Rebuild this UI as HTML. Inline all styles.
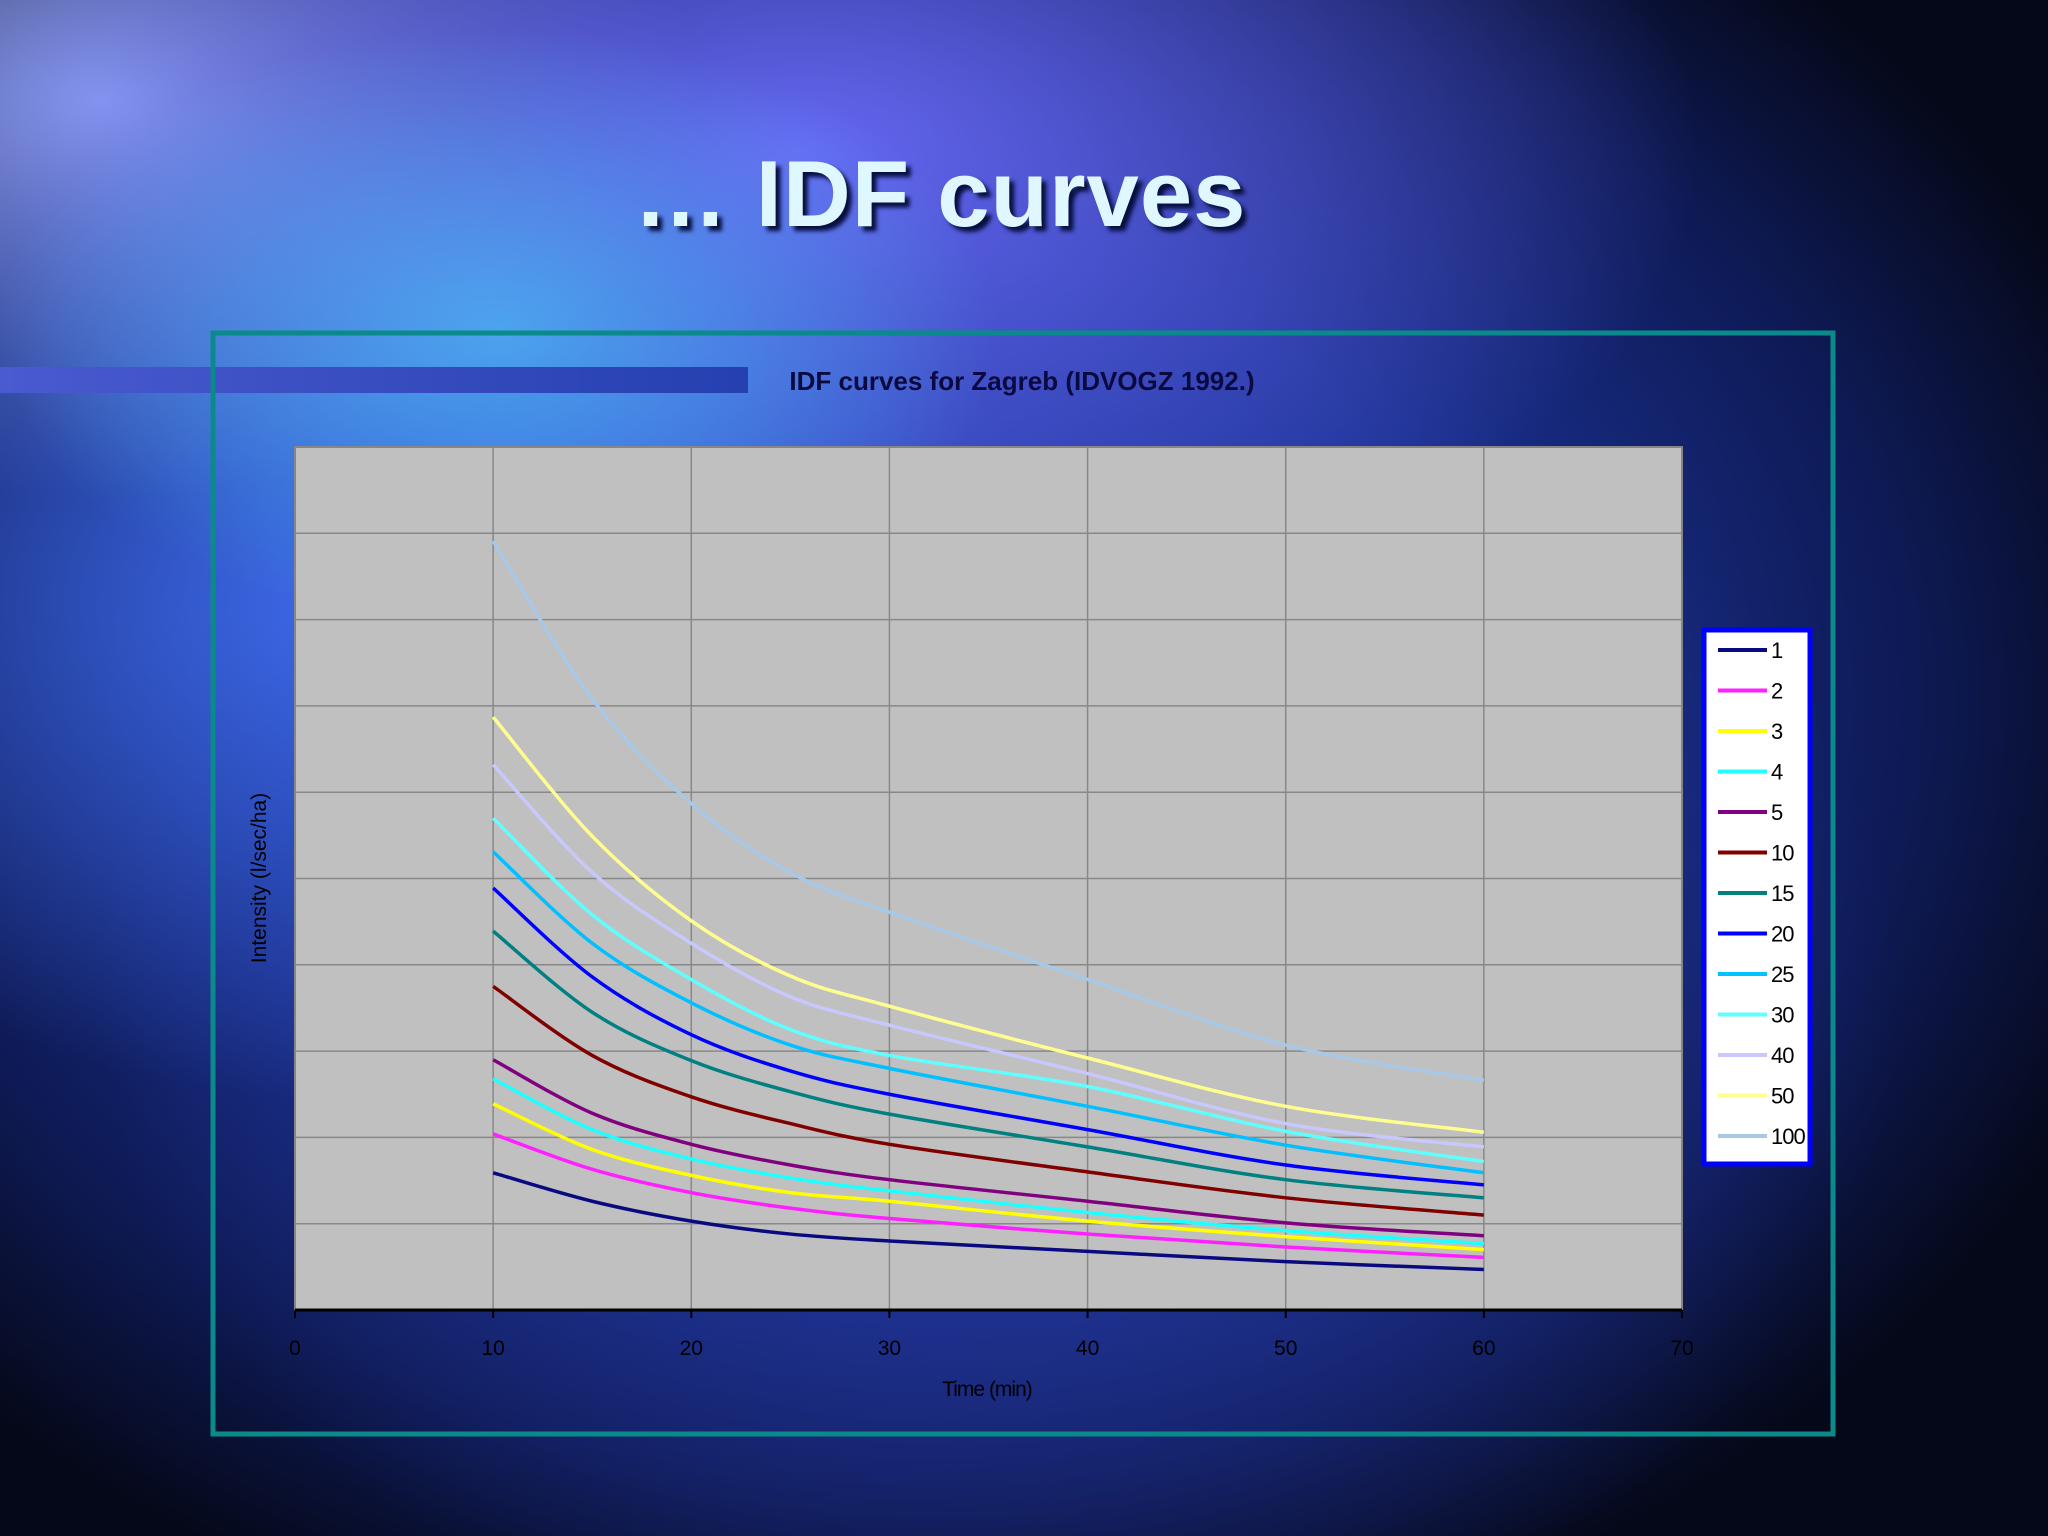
<!DOCTYPE html>
<html><head><meta charset="utf-8">
<style>
html,body{margin:0;padding:0;}
body{width:2048px;height:1536px;overflow:hidden;position:relative;font-family:"Liberation Sans",sans-serif;
background:
radial-gradient(ellipse 500px 300px at 500px 330px, rgba(80,220,255,0.55), rgba(80,220,255,0) 100%),
radial-gradient(ellipse 700px 500px at 350px 600px, rgba(70,120,255,0.8), rgba(70,120,255,0) 100%),
radial-gradient(ellipse 900px 500px at 800px 150px, rgba(110,110,255,0.9), rgba(110,110,255,0) 100%),
radial-gradient(ellipse 600px 400px at 100px 100px, rgba(150,170,255,0.9), rgba(150,170,255,0) 100%),
radial-gradient(ellipse 900px 700px at 1000px 1000px, rgba(40,60,170,0.9), rgba(40,60,170,0) 100%),
radial-gradient(ellipse 1300px 1000px at 900px 700px, #2440b0 0%, #1a3090 45%, #0e1a55 78%, #050818 100%);}
</style></head><body>
<div style="position:absolute;left:0;width:1880px;top:140px;text-align:center;font-size:94px;font-weight:bold;color:#dff8ff;text-shadow:5px 5px 4px #081040;font-family:'Liberation Sans',sans-serif;letter-spacing:1px;">… IDF curves</div>
<div style="position:absolute;left:0;top:367px;width:748px;height:26px;background:linear-gradient(90deg,#4a5ad0,#2540b0);"></div>
<svg id="chart" width="2048" height="1536" style="position:absolute;left:0;top:0" xmlns="http://www.w3.org/2000/svg"></svg>
<script>
const categories=[10,15,20,25,30,40,50,60];
const seriesNames=["1","2","3","4","5","10","15","20","25","30","40","50","100"];
const seriesColors=["#0a0a80","#ff20ff","#ffff00","#20ffff","#800080","#800000","#008080","#0000ff","#00c0ff","#60ffff","#c8c8ff","#ffff90","#a8c8e8"];
const s1=[15.9,12.6,10.3,8.8,8.0,6.8,5.6,4.7];
const s2=[20.4,16.3,13.6,11.8,10.6,8.8,7.3,6.1];
const s3=[23.9,18.6,15.6,13.6,12.6,10.3,8.5,7.0];
const s4=[26.8,20.9,17.5,15.3,13.8,11.3,9.2,7.7];
const s5=[29.0,22.8,19.2,16.8,15.1,12.6,10.1,8.6];
const s10=[37.5,29.5,24.7,21.6,19.2,16.0,13.0,11.0];
const s15=[43.9,34.5,28.9,25.3,22.7,18.9,15.1,13.0];
const s20=[48.9,38.6,31.9,27.7,25.0,20.9,16.8,14.5];
const s25=[53.1,42.5,35.6,30.7,28.0,23.6,19.1,15.9];
const s30=[57.0,45.8,38.3,32.5,29.5,25.9,20.7,17.2];
const s40=[63.2,50.7,42.5,36.3,33.0,27.4,21.6,18.9];
const s50=[68.7,54.9,45.1,38.7,35.2,29.2,23.6,20.6];
const s100=[89.1,70.8,58.7,50.7,46.1,38.3,30.7,26.6];
const xTicks=[0,10,20,30,40,50,60,70];
const yGrid=[0,10,20,30,40,50,60,70,80,90,100];
const allSeries=[s1,s2,s3,s4,s5,s10,s15,s20,s25,s30,s40,s50,s100];

const NS="http://www.w3.org/2000/svg";
const svg=document.getElementById('chart');
const L=295,R=1682,T=447,B=1310;
const xs=v=>L+(v-0)/(70-0)*(R-L);
const ys=v=>B-(v-0)/(100-0)*(B-T);
function mk(tag,attrs,parent){const e=document.createElementNS(NS,tag);for(const k in attrs)e.setAttribute(k,attrs[k]);(parent||svg).appendChild(e);return e;}
function smoothPath(P){
 let d='M'+P[0][0]+','+P[0][1];
 for(let i=0;i<P.length-1;i++){
  const p0=P[i-1]||P[i],p1=P[i],p2=P[i+1],p3=P[i+2]||P[i+1];
  const c1x=p1[0]+(p2[0]-p0[0])/6,c1y=p1[1]+(p2[1]-p0[1])/6;
  const c2x=p2[0]-(p3[0]-p1[0])/6,c2y=p2[1]-(p3[1]-p1[1])/6;
  d+=' C'+c1x+','+c1y+' '+c2x+','+c2y+' '+p2[0]+','+p2[1];
 }
 return d;
}

const frame=mk('rect',{x:213,y:333,width:1620,height:1101,fill:'none',stroke:'#0a8a8a','stroke-width':5});


const ct=mk('text',{x:1022,y:390,'text-anchor':'middle','font-size':26,'font-weight':'bold',fill:'#0a0a40','font-family':'Liberation Sans, sans-serif'});
ct.textContent='IDF curves for Zagreb  (IDVOGZ 1992.)';



const plot=mk('rect',{x:L,y:T,width:R-L,height:B-T,fill:'#c0c0c0',stroke:'#808080','stroke-width':2});


yGrid.forEach(v=>{const g=mk('line',{x1:L,x2:R,y1:ys(v),y2:ys(v),stroke:'#888','stroke-width':1.5});

});
xTicks.forEach(v=>{const g=mk('line',{x1:xs(v),x2:xs(v),y1:T,y2:B,stroke:'#888','stroke-width':1.5});


const tk=mk('line',{x1:xs(v),x2:xs(v),y1:B,y2:B+8,stroke:'#000','stroke-width':2});


const t=mk('text',{x:xs(v),y:B+45,'text-anchor':'middle','font-size':21,fill:'#000','font-family':'Liberation Sans, sans-serif'});
t.textContent=v;

});
const ax=mk('line',{x1:L,x2:R,y1:B,y2:B,stroke:'#000','stroke-width':3});


const xt=mk('text',{x:987,y:1396,'text-anchor':'middle','font-size':21,fill:'#000','letter-spacing':'-1','font-family':'Liberation Sans, sans-serif'});
xt.textContent='Time (min)';


const yt=mk('text',{x:0,y:0,transform:'translate(266,878) rotate(-90)','text-anchor':'middle','font-size':21,fill:'#000','font-family':'Liberation Sans, sans-serif'});
yt.textContent='Intensity (l/sec/ha)';



allSeries.forEach((s,i)=>{
 const P=s.map((v,j)=>[xs(categories[j]),ys(v)]);
 const p=mk('path',{d:smoothPath(P),fill:'none',stroke:seriesColors[i],'stroke-width':3.5,'stroke-linejoin':'round'});
 
 
});

const lb=mk('rect',{x:1704,y:630,width:106,height:534,fill:'#fff',stroke:'#0000ff','stroke-width':5});


seriesNames.forEach((n,i)=>{
 const y=650+i*40.5;
 const l=mk('line',{x1:1718,x2:1767,y1:y,y2:y,stroke:seriesColors[i],'stroke-width':4});
 
 
 const t=mk('text',{x:1771,y:y+8,'font-size':22,fill:'#000','letter-spacing':'-1','font-family':'Liberation Sans, sans-serif'});
 t.textContent=n;
 
 
});
</script>
</body></html>
